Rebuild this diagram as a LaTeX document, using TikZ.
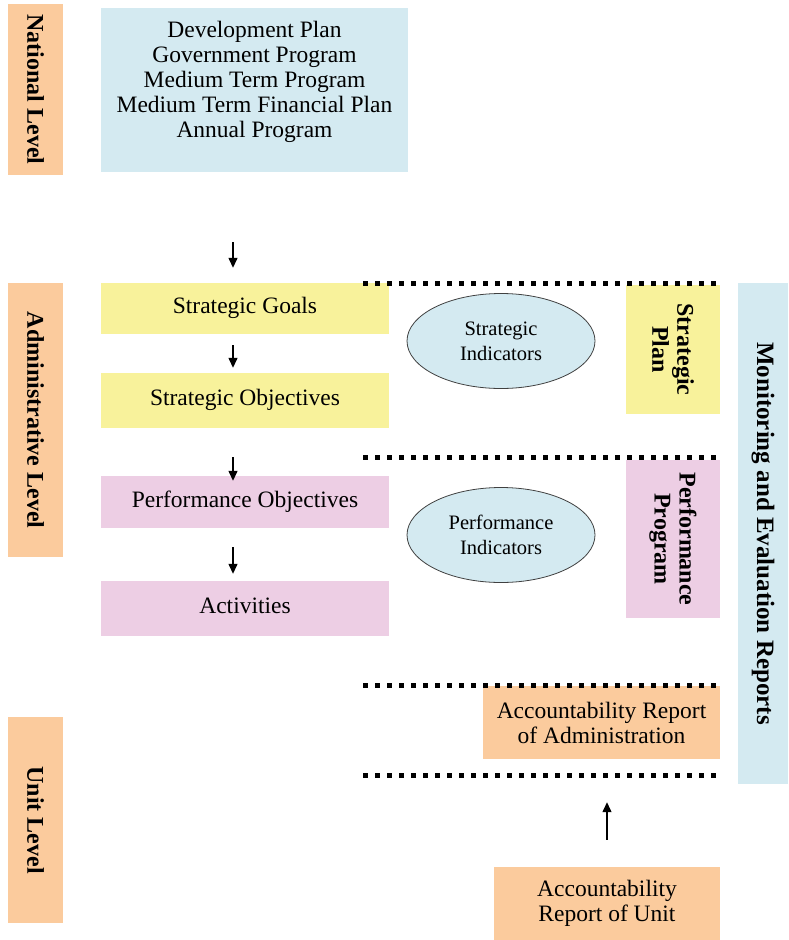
\documentclass[tikz,border=0pt]{standalone}
\usepackage{fontspec}
\setmainfont{Liberation Serif}
\usetikzlibrary{shapes.geometric, arrows.meta}

\definecolor{levelorange}{HTML}{FBCB9D}
\definecolor{planblue}{HTML}{D4EAF1}
\definecolor{goalyellow}{HTML}{F8F29B}
\definecolor{perfpink}{HTML}{EDCEE4}

\begin{document}
\begin{tikzpicture}[x=1pt, y=-1pt,
    box/.style={inner sep=0pt, align=center, font=\fontsize{23.5}{25}\selectfont},
    level/.style={box, fill=levelorange, rotate=-90, font=\fontsize{24}{25}\selectfont\bfseries},
    stepbox/.style={box, minimum width=288pt, minimum height=#1},
    indicator/.style={ellipse, draw=black!75, line width=0.8pt, fill=planblue, inner sep=0pt,
      minimum width=188pt, minimum height=95pt, align=center, font=\fontsize{20.5}{25}\selectfont},
    flow/.style={-{Triangle[length=10pt,width=9pt]}, line width=1.3pt}]
  \useasboundingbox (0,0) rectangle (788,940);

  \node[level, minimum width=171pt, minimum height=55pt] (national) at (35.5,89.5) {National Level};
  \node[level, minimum width=274pt, minimum height=55pt] (admin) at (35.5,420) {Administrative Level};
  \node[level, minimum width=206pt, minimum height=55pt] (unit) at (35.5,820) {Unit Level};

  \node[box, fill=planblue, minimum width=307pt, minimum height=164pt] (plans) at (254.5,90) {};
  \node[box] (plantext) at ([yshift=8pt]plans.center)
    {Development Plan\\ Government Program\\ Medium Term Program\\ Medium Term Financial Plan\\ Annual Program};

  \node[stepbox=51pt, fill=goalyellow] (goals) at (245,308.5) {Strategic Goals\strut\vspace{4pt}};
  \node[stepbox=55pt, fill=goalyellow] (sobj) at (245,400.5) {Strategic Objectives\strut\vspace{4pt}};
  \node[stepbox=52pt, fill=perfpink] (pobj) at (245,502) {Performance Objectives\strut\vspace{4pt}};
  \node[stepbox=55pt, fill=perfpink] (activ) at (245,608.5) {Activities\strut\vspace{4pt}};

  \node[indicator] (sind) at (501,341) {Strategic\\ Indicators};
  \node[indicator] (pind) at (501,535) {Performance\\ Indicators};

  \node[level, fill=goalyellow, minimum width=129pt, minimum height=94pt] (splan) at (673,349.5) {Strategic\\ Plan};
  \node[level, fill=perfpink, minimum width=158pt, minimum height=94pt] (pprog) at (673,539) {Performance\\ Program};
  \node[level, fill=planblue, minimum width=501pt, minimum height=50pt, font=\fontsize{25}{25}\selectfont\bfseries]
    (monitor) at (763,533.5) {Monitoring and Evaluation Reports};

  \node[box, fill=levelorange, minimum width=237pt, minimum height=73pt] (adrep) at (601.5,722.5)
    {Accountability Report\\ of Administration};
  \node[box, fill=levelorange, minimum width=226pt, minimum height=73pt] (unrep) at (607,903.5)
    {Accountability\\ Report of Unit};

  \foreach \y in {283, 457, 685, 775}
    \draw[line width=5pt, dash pattern=on 5pt off 7pt] (363,\y) -- (722,\y);

  \coordinate (spine) at (233,0);
  \coordinate (riser) at (607,0);
  \draw[flow, shorten <=70pt, shorten >=15pt] (plans.south -| spine) -- (goals.north -| spine);
  \draw[flow, shorten <=11pt, shorten >=5pt] (goals.south -| spine) -- (sobj.north -| spine);
  \draw[flow, shorten <=29pt, shorten >=-5pt] (sobj.south -| spine) -- (pobj.north -| spine);
  \draw[flow, shorten <=19pt, shorten >=7pt] (pobj.south -| spine) -- (activ.north -| spine);
  \draw[flow, shorten <=27pt, shorten >=43pt] (unrep.north -| riser) -- (adrep.south -| riser);
\end{tikzpicture}
\end{document}
